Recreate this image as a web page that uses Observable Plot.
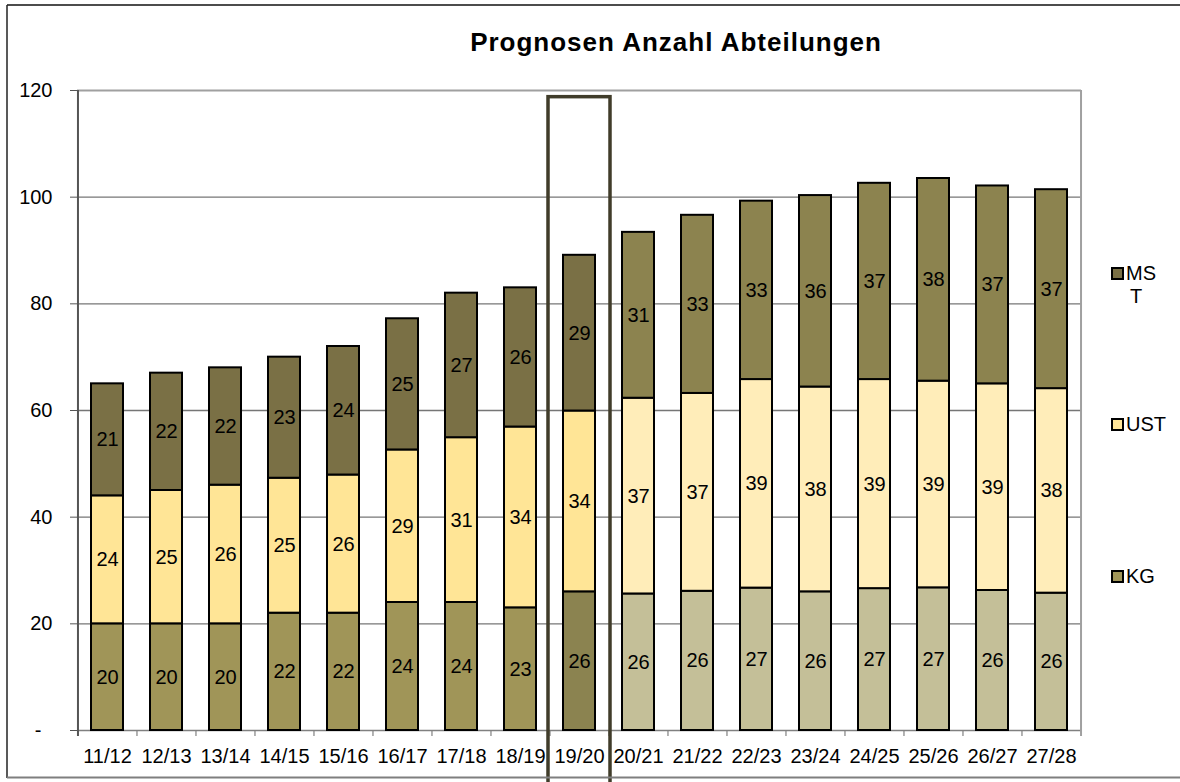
<!DOCTYPE html>
<html><head><meta charset="utf-8">
<script src="https://cdn.jsdelivr.net/npm/d3@7"></script>
<script src="https://cdn.jsdelivr.net/npm/@observablehq/plot@0.6"></script>
<style>
body{margin:0;background:#fff;}
#wrap{position:relative;width:1180px;height:782px;overflow:hidden;font-family:"Liberation Sans",Arial,sans-serif;}
#chart{position:absolute;left:0;top:0;}
#overlay{position:absolute;left:0;top:0;pointer-events:none;}
</style></head><body>
<div id="wrap"><div id="chart"></div><svg id="overlay" width="1180" height="782"></svg></div>
<script>
// ---- data ----
const categories = ["11/12","12/13","13/14","14/15","15/16","16/17","17/18","18/19","19/20","20/21","21/22","22/23","23/24","24/25","25/26","26/27","27/28"];
const kg  = [20, 20, 20, 22,   22,   24,   24,   23,   26,   25.6, 26.1, 26.7, 26.0, 26.6, 26.75, 26.25, 25.75];
const ust = [24, 25, 26, 25.3, 25.9, 28.6, 30.9, 33.9, 33.9, 36.7, 37.1, 39.1, 38.4, 39.2, 38.75, 38.75, 38.35];
const mst = [21, 22, 22, 22.7, 24.1, 24.6, 27.1, 26.1, 29.2, 31.1, 33.4, 33.45, 35.9, 36.8, 38,   37.1,  37.3];
const phase = ["hist","hist","hist","hist","hist","hist","hist","hist","current","prog","prog","prog","prog","prog","prog","prog","prog"];
const seriesNames = ["KG","UST","MST"];
const legendOrder = ["MST","UST","KG"];
const yTicks = [0,20,40,60,80,100,120];
const gridTicks = [20,40,60,80,100];
const titleText = "Prognosen Anzahl Abteilungen";
const highlightCategory = "19/20";
const highlightTop = 118.75;
const highlightBottom = -11;

// ---- styles ----
const palette = {
  KG:  {hist:"#a09558", current:"#8b8350", prog:"#c4bf98"},
  UST: {hist:"#ffe596", current:"#ffe596", prog:"#ffedb9"},
  MST: {hist:"#7a7045", current:"#7a7045", prog:"#8c834f"}
};
const legendColors = {MST:"#7a7045", UST:"#ffe699", KG:"#a09558"};

const W=1180,H=782,ML=77,MR=99,MT=90,MB=52;
const step=(W-ML-MR)/categories.length;
const values = {KG:kg, UST:ust, MST:mst};
const rows = [];
categories.forEach((c,i)=>{
  seriesNames.forEach(s=>rows.push({cat:c, series:s, value:values[s][i], phase:phase[i]}));
});

const plot = Plot.plot({
  width:W, height:H, marginLeft:ML, marginRight:MR, marginTop:MT, marginBottom:MB,
  style:{fontFamily:'"Liberation Sans",Arial,sans-serif', fontSize:"20px", background:"transparent", color:"#000"},
  x:{domain:categories, paddingInner:0.46, paddingOuter:0.23, label:null},
  y:{domain:[0,120], label:null},
  marks:[
    Plot.gridY(gridTicks,{stroke:"#767676", strokeOpacity:1, strokeWidth:1.3}),
    Plot.ruleY([120],{stroke:"#a0a0a0", strokeWidth:2}),
    Plot.ruleY([0],{stroke:"#808080", strokeWidth:1.5}),
    Plot.ruleX([categories[categories.length-1]],{dx:step/2, stroke:"#a0a0a0", strokeWidth:2, insetBottom:-6}),
    Plot.ruleX(categories.slice(1),{dx:-step/2, y1:0, y2:0, insetBottom:-6, stroke:"#808080", strokeWidth:1.2}),
    Plot.ruleX([categories[0]],{dx:-step/2, stroke:"#555", strokeWidth:2, insetBottom:-6}),
    Plot.axisY(yTicks,{tickSize:7, tickPadding:18, tickFormat:d=>d===0?"-\u00a0\u00a0":String(d), fontSize:20, stroke:"#555"}),
    Plot.axisX({tickSize:0, tickPadding:18, fontSize:20}),
    Plot.barY(rows, Plot.stackY({x:"cat", y:"value", z:"series", fill:d=>palette[d.series][d.phase], stroke:"#000", strokeWidth:2})),
    Plot.text(rows, Plot.stackY({x:"cat", y:"value", z:"series", text:d=>String(Math.round(d.value)), fontSize:20, fill:"#000"})),
    Plot.barY([highlightCategory],{x:d=>d, y1:highlightTop, y2:highlightBottom, fill:"none", stroke:"#403c2a", strokeWidth:3.5, insetLeft:-15, insetRight:-15})
  ]
});
document.getElementById("chart").appendChild(plot);

// ---- overlay: frame, title, legend ----
const ov = d3.select("#overlay");
ov.append("line").attr("x1",7).attr("x2",1180).attr("y1",5).attr("y2",5).attr("stroke","#111").attr("stroke-width",1.5);
ov.append("line").attr("x1",7).attr("x2",7).attr("y1",5).attr("y2",778).attr("stroke","#222").attr("stroke-width",1.5);
ov.append("line").attr("x1",7).attr("x2",1180).attr("y1",777.5).attr("y2",777.5).attr("stroke","#7f7f7f").attr("stroke-width",2);
ov.append("text").attr("x",676).attr("y",51).attr("text-anchor","middle")
  .attr("font-family",'"Liberation Sans",Arial,sans-serif').attr("font-size",26).attr("font-weight","bold")
  .attr("letter-spacing",1).attr("fill","#000").text(titleText);
const legendY = {MST:273.5, UST:424.5, KG:576.5};
legendOrder.forEach(s=>{
  const cy = legendY[s];
  ov.append("rect").attr("x",1112).attr("y",cy-5.5).attr("width",11).attr("height",11)
    .attr("fill",legendColors[s]).attr("stroke","#000").attr("stroke-width",2);
  const t = ov.append("text").attr("font-family",'"Liberation Sans",Arial,sans-serif').attr("font-size",20).attr("fill","#000");
  if (s==="MST") {
    t.append("tspan").attr("x",1126).attr("y",cy+6.5).text(s.slice(0,2));
    t.append("tspan").attr("x",1130).attr("y",cy+29.5).text(s.slice(2));
  } else {
    t.attr("x",1126).attr("y",cy+6.5).text(s);
  }
});
</script>
</body></html>
